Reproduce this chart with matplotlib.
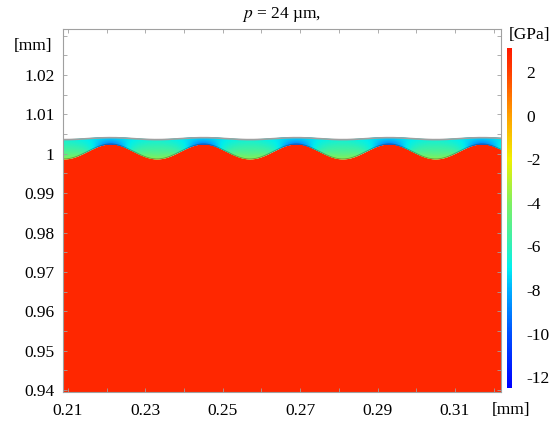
import numpy as np
import matplotlib.pyplot as plt
from matplotlib.colors import LinearSegmentedColormap, Normalize
from matplotlib.ticker import MultipleLocator, FixedLocator

plt.rcParams['font.family'] = ['Liberation Serif', 'DejaVu Serif']
plt.rcParams['font.size'] = 12.5
plt.rcParams['mathtext.fontset'] = 'stix'
plt.rcParams['axes.unicode_minus'] = False

# geometry (mm)
period = 0.024          # p = 24 um
x_peak = 0.2210         # first crest of the substrate
sub_mean = 1.0006       # substrate surface mean height
sub_amp = 0.0019        # substrate surface amplitude
top_mean = 1.00385      # coating top mean height
top_amp = 0.00025       # coating top amplitude

# stress values [GPa] at (interface, top) of coating
stress_peak = [-9.8, -7.5]
stress_trough = [-3.0, -6.5]
stress_substrate = 2.7

cb_ticks = [2, 0, -2, -4, -6, -8, -10, -12]
cb_range = [-12.5, 3.1]

# rainbow colour scale
cmap_vals = [-12.5, -10, -8, -7, -6, -4, -2, 0, 2, 3.1]
cmap_cols = ['#0000ff', '#0050ff', '#00b0ff', '#00f0f0', '#30f0b8',
             '#80f060', '#f0f000', '#ffa000', '#ff4000', '#ff1a00']
norm = Normalize(cb_range[0], cb_range[1])
cmap = LinearSegmentedColormap.from_list(
    'rb', [(norm(v), c) for v, c in zip(cmap_vals, cmap_cols)])

fig = plt.figure(figsize=(5.58, 4.22), dpi=100)
ax = fig.add_axes([63 / 558, 30 / 422, 438 / 558, 363 / 422])

x = np.linspace(0.2087, 0.3219, 600)
c = np.cos(2 * np.pi * (x - x_peak) / period)
y_sub = sub_mean + sub_amp * c
y_top = top_mean + top_amp * c

ax.fill_between(x, 0.93, y_sub, color=cmap(norm(stress_substrate)), lw=0)

t = np.linspace(0, 1, 30)
X = np.tile(x, (len(t), 1))
Y = y_sub[None, :] + t[:, None] * (y_top - y_sub)[None, :]
w = (1 + c) / 2
bot = stress_trough[0] + w ** 1.5 * (stress_peak[0] - stress_trough[0])
top = stress_trough[1] + w * (stress_peak[1] - stress_trough[1])
V = bot[None, :] + np.sqrt(t)[:, None] * (top - bot)[None, :]
ax.pcolormesh(X, Y, V, cmap=cmap, norm=norm, shading='gouraud')
ax.plot(x, y_top, color='#a0a0a0', lw=1.2)
ax.plot(x, y_sub, color='#404040', lw=0.6, alpha=0.5)

ax.set_xlim(0.2087, 0.3219)
ax.set_ylim(0.9395, 1.0317)
ax.xaxis.set_major_locator(FixedLocator([0.21, 0.23, 0.25, 0.27, 0.29, 0.31]))
ax.xaxis.set_minor_locator(MultipleLocator(0.01))
ax.yaxis.set_major_locator(FixedLocator([0.94, 0.95, 0.96, 0.97, 0.98, 0.99, 1.0, 1.01, 1.02]))
ax.yaxis.set_minor_locator(MultipleLocator(0.005))
ax.set_xticklabels(['0.21', '0.23', '0.25', '0.27', '0.29', '0.31'])
ax.set_yticklabels(['0.94', '0.95', '0.96', '0.97', '0.98', '0.99', '1', '1.01', '1.02'])
ax.tick_params(which='both', direction='in', top=True, right=True,
               color='#a0a0a0', length=3, width=0.6)
ax.tick_params(which='major', pad=6)
ax.tick_params(axis='x', pad=8)
for s in ax.spines.values():
    s.set_color('#a0a0a0')
    s.set_linewidth(0.8)

ax.set_title(r'$p$ = 24 µm,', fontsize=12.5, pad=8)
fig.text(33 / 558, 1 - 46 / 422, '[mm]', ha='center', va='center')
fig.text(511 / 558, 1 - 410 / 422, '[mm]', ha='center', va='center')

cax = fig.add_axes([507 / 558, 34 / 422, 5 / 558, 340 / 422])
cb = fig.colorbar(plt.cm.ScalarMappable(norm=norm, cmap=cmap), cax=cax)
cb.outline.set_visible(False)
cb.set_ticks(cb_ticks)
cb.set_ticklabels([str(v) for v in cb_ticks])
cax.tick_params(length=0, pad=10)
fig.text(530 / 558, 1 - 35 / 422, '[GPa]', ha='center', va='center')

fig.savefig('out.png', dpi=100)
